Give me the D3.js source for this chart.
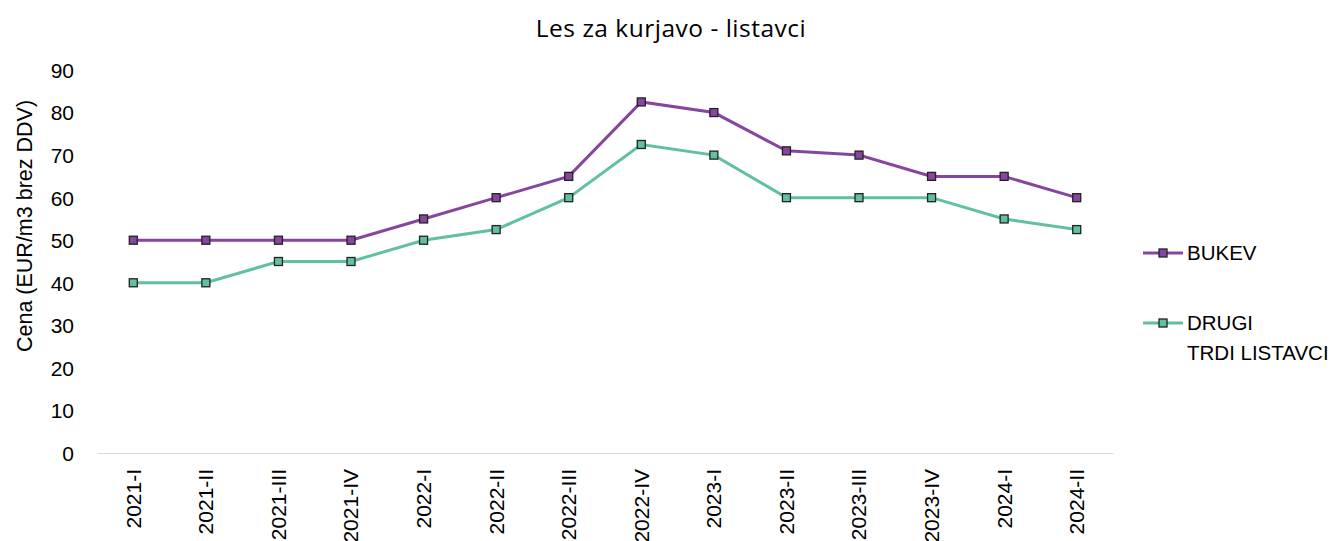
<!DOCTYPE html>
<html><head><meta charset="utf-8">
<script src="https://cdn.jsdelivr.net/npm/d3@7"></script>
<style>body{margin:0;background:#fff;} text{font-family:"Liberation Sans",Arial,sans-serif;fill:#000;}</style>
</head><body>
<svg id="c" width="1335" height="541"></svg>
<script>
const categories = ["2021-I","2021-II","2021-III","2021-IV","2022-I","2022-II","2022-III","2022-IV","2023-I","2023-II","2023-III","2023-IV","2024-I","2024-II"];
const bukev = [50,50,50,50,55,60,65,82.5,80,71,70,65,65,60];
const drugi = [40,40,45,45,50,52.5,60,72.5,70,60,60,60,55,52.5];
const yTicks = [0,10,20,30,40,50,60,70,80,90];
const seriesNames = ["BUKEV", "DRUGI TRDI LISTAVCI"];
const colors = ["#8646a0", "#62c0a2"];

const svg = d3.select("#c");
const x = d3.scaleBand().domain(categories).range([97,1113]);
const y = d3.scaleLinear().domain([0,90]).range([453,70]);

svg.append("text").attr("x",671).attr("y",37).attr("text-anchor","middle")
  .style("font-family","'Open Sans', sans-serif").style("font-size","24.5px").style("letter-spacing","0.5px").text("Les za kurjavo - listavci");

// y axis labels
const ya = svg.append("g").attr("transform","translate(74,0)").call(d3.axisLeft(y).tickValues(yTicks).tickSize(0).tickPadding(0));
ya.select(".domain").remove();
ya.selectAll("text").style("font-size","21px").style("font-family","Liberation Sans, Arial, sans-serif").attr("fill","#000").attr("dy","0.35em");

svg.append("text").attr("transform","translate(24,226) rotate(-90)").attr("text-anchor","middle").attr("dy","0.35em").style("font-size","21.5px").text("Cena (EUR/m3 brez DDV)");

// x axis
const xa = svg.append("g").attr("transform","translate(0,453)").call(d3.axisBottom(x).tickSize(0));
xa.select(".domain").attr("stroke","#d9d9d9").attr("stroke-width",1.2);
xa.selectAll("text").style("font-size","21px").style("font-family","Liberation Sans, Arial, sans-serif").attr("fill","#000")
  .attr("transform","rotate(-90)").attr("text-anchor","end").attr("x",-16).attr("y",0).attr("dy","0.35em");

const data = [bukev, drugi];
const line = d3.line().x((d,i)=>x(categories[i])+x.bandwidth()/2).y(d=>y(d));
data.forEach((s,k)=>{
  svg.append("path").datum(s).attr("d",line).attr("fill","none").attr("stroke",colors[k]).attr("stroke-width",3);
  svg.selectAll(null).data(s).enter().append("rect")
    .attr("x",(d,i)=>x(categories[i])+x.bandwidth()/2-4).attr("y",d=>y(d)-4)
    .attr("width",8).attr("height",8).attr("fill",colors[k]).attr("stroke","#222").attr("stroke-width",1.3);
});

// legend
const leg = [{y:253, lines:["BUKEV"]},{y:323, lines:["DRUGI","TRDI LISTAVCI"]}];
leg.forEach((l,k)=>{
  svg.append("line").attr("x1",1143).attr("x2",1183).attr("y1",l.y).attr("y2",l.y).attr("stroke",colors[k]).attr("stroke-width",3);
  svg.append("rect").attr("x",1159).attr("y",l.y-4).attr("width",8).attr("height",8).attr("fill",colors[k]).attr("stroke","#222").attr("stroke-width",1.3);
  l.lines.forEach((t,j)=>{
    svg.append("text").attr("x",1187).attr("y",l.y+j*30).attr("dy","0.35em").style("font-size","20.5px").text(t);
  });
});
</script>
</body></html>
